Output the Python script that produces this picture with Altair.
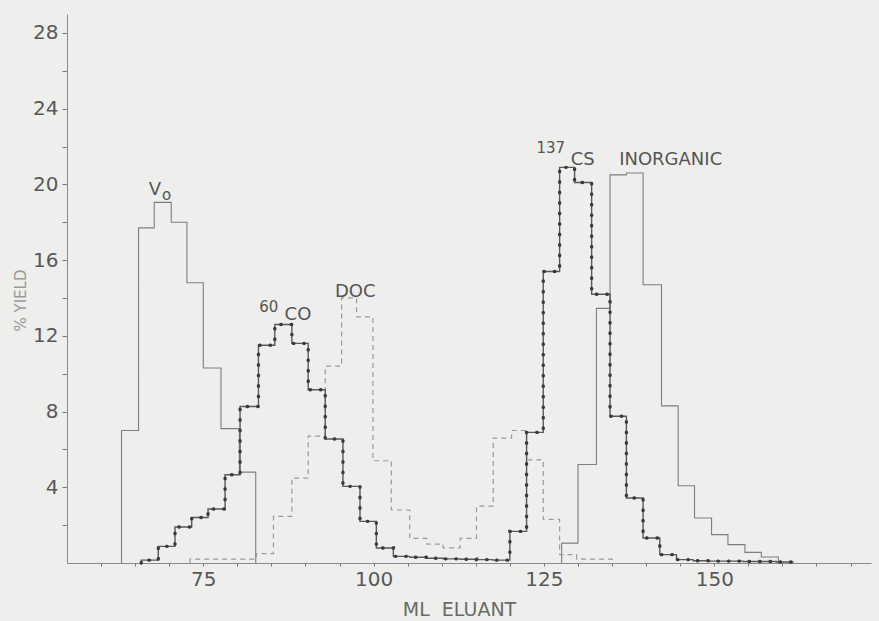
import altair as alt
import pandas as pd

# ---------------- data ----------------
# V0 marker (thin solid)
v0_edges = [63.0, 65.5, 67.8, 70.3, 72.6, 75.0, 77.6, 80.3, 82.7]
v0_vals = [7.0, 17.7, 19.05, 18.0, 14.8, 10.3, 7.1, 4.8]

# 60Co / 137Cs radioactivity (dotted heavy line)
rad_edges = [65.9, 68.4, 70.85, 73.3, 75.7, 78.2, 80.4, 83.1, 85.5, 88.0,
             90.4, 92.9, 95.5, 98.0, 100.4, 102.9, 105.3, 107.8, 110.2, 112.7,
             115.1, 117.5, 120.0, 122.45, 124.9, 127.3, 129.5, 132.0, 134.7, 137.1,
             139.55, 142.0, 144.45, 146.9, 149.3, 151.8, 154.2, 156.7, 159.1, 161.5]
rad_vals = [0.15, 0.88, 1.9, 2.4, 2.85, 4.66, 8.27, 11.5, 12.6, 11.6,
            9.15, 6.55, 4.05, 2.2, 0.79, 0.35, 0.3, 0.25, 0.22, 0.2,
            0.18, 0.15, 1.67, 6.9, 15.4, 20.9, 20.1, 14.2, 7.75, 3.43,
            1.32, 0.44, 0.18, 0.12, 0.1, 0.1, 0.08, 0.08, 0.05]

# DOC (dashed)
doc_edges = [73.05, 82.8, 85.3, 88.0, 90.4, 92.9, 95.3, 97.5, 99.9, 102.6, 105.3,
             107.8, 110.2, 112.7, 115.1, 117.55, 120.25, 122.45, 124.9, 127.3, 129.8, 135.0]
doc_vals = [0.2, 0.5, 2.46, 4.48, 6.7, 10.4, 14.0, 13.0, 5.4, 2.8, 1.3,
            1.0, 0.8, 1.3, 3.0, 6.6, 7.0, 5.45, 2.3, 0.44, 0.2]

# Inorganic (thin solid)
inorg_edges = [127.6, 130.0, 132.7, 134.7, 137.1, 139.55, 142.25, 144.7, 147.1,
               149.6, 152.0, 154.5, 156.9, 159.4]
inorg_vals = [1.05, 5.2, 13.45, 20.5, 20.6, 14.7, 8.3, 4.08, 2.38, 1.5, 0.97, 0.56, 0.32]

# axis ticks
x_ticks = list(range(60, 171, 5))
x_labels = [75, 100, 125, 150]
y_ticks = list(range(2, 29, 2))
y_labels = [4, 8, 12, 16, 20, 24, 28]

# annotations (data coordinates)
big_labels = pd.DataFrame({
    "ml": [67.9, 88.9, 97.3, 130.7, 143.6],
    "y": [19.44, 12.84, 14.05, 21.02, 21.02],
    "text": ["V", "CO", "DOC", "CS", "INORGANIC"],
})
small_labels = pd.DataFrame({
    "ml": [69.6, 84.6, 126.0],
    "y": [19.15, 13.26, 21.66],
    "text": ["o", "60", "137"],
})


def steps(name, edges, vals):
    rows = [{"series": name, "ml": edges[0], "y": 0.0, "o": 0}]
    for i, v in enumerate(vals):
        rows.append({"series": name, "ml": edges[i], "y": v, "o": i + 1})
    rows.append({"series": name, "ml": edges[-1], "y": 0.0, "o": len(vals) + 1})
    return rows


thin = pd.DataFrame(steps("V0", v0_edges, v0_vals) + steps("INORGANIC", inorg_edges, inorg_vals))
rad = pd.DataFrame(steps("RAD", rad_edges, rad_vals))
doc = pd.DataFrame(steps("DOC", doc_edges, doc_vals))

FONT = "DejaVu Sans"

x_enc = alt.X(
    "ml:Q",
    scale=alt.Scale(domain=[55, 173], nice=False, zero=False),
    axis=alt.Axis(
        values=x_ticks,
        labelExpr="indexof(%s, datum.value) >= 0 ? datum.label : ''" % str(x_labels),
        title="ML\u00a0\u00a0ELUANT",
        titleX=392, titleY=52, titleBaseline="alphabetic", titleAlign="center",
        titleFontSize=19, titleFontWeight="normal", titleColor="#6a6a6a", titleFont=FONT,
        labelFontSize=20, labelColor="#585858", labelFont=FONT, labelPadding=3,
        tickSize=3, tickColor="#7a7a7a", domainColor="#8a8a8a", grid=False,
        labelFlush=False, labelOverlap=False,
    ),
)
y_enc = alt.Y(
    "y:Q",
    scale=alt.Scale(domain=[0, 29], nice=False),
    axis=alt.Axis(
        values=y_ticks,
        labelExpr="indexof(%s, datum.value) >= 0 ? datum.label : ''" % str(y_labels),
        title="% YIELD",
        titleX=-47, titleY=286, titleAngle=-90, titleAlign="center", titleBaseline="middle",
        titleFontSize=15, titleFontWeight="normal", titleColor="#9a9a9a", titleFont=FONT,
        labelFontSize=20, labelColor="#585858", labelFont=FONT, labelPadding=4,
        tickSize=5, tickColor="#7a7a7a", domainColor="#8a8a8a", grid=False,
        labelFlush=False, labelOverlap=False,
    ),
)

thin_layer = alt.Chart(thin).mark_line(
    interpolate="step-after", color="#7e7e7e", strokeWidth=1.1
).encode(x=x_enc, y=y_enc, detail="series:N", order="o:Q")

doc_layer = alt.Chart(doc).mark_line(
    interpolate="step-after", color="#9a9a9a", strokeWidth=1.2, strokeDash=[5, 4]
).encode(x=x_enc, y=y_enc, order="o:Q")

rad_line = alt.Chart(rad).mark_line(
    interpolate="step-after", color="#5a5a5a", strokeWidth=1.4
).encode(x=x_enc, y=y_enc, order="o:Q")

rad_dots = alt.Chart(rad).mark_line(
    interpolate="step-after", color="#3a3a3a", strokeWidth=3.4,
    strokeDash=[0.5, 10], strokeCap="round"
).encode(x=x_enc, y=y_enc, order="o:Q")

big_text = alt.Chart(big_labels).mark_text(
    font=FONT, fontSize=18, color="#555555", align="center", baseline="alphabetic"
).encode(x=x_enc, y=y_enc, text="text:N")

small_text = alt.Chart(small_labels).mark_text(
    font=FONT, fontSize=15, color="#555555", align="center", baseline="alphabetic"
).encode(x=x_enc, y=y_enc, text="text:N")

chart = alt.layer(
    thin_layer, doc_layer, rad_line, rad_dots, big_text, small_text
).properties(
    width=804, height=549,
    padding={"left": 67, "top": 14, "right": 8, "bottom": 58},
    autosize=alt.AutoSizeParams(type="none"),
    background="#eeeeec",
).configure_view(stroke=None)

chart.save("out.html", embed_options={"renderer": "svg", "actions": False})
